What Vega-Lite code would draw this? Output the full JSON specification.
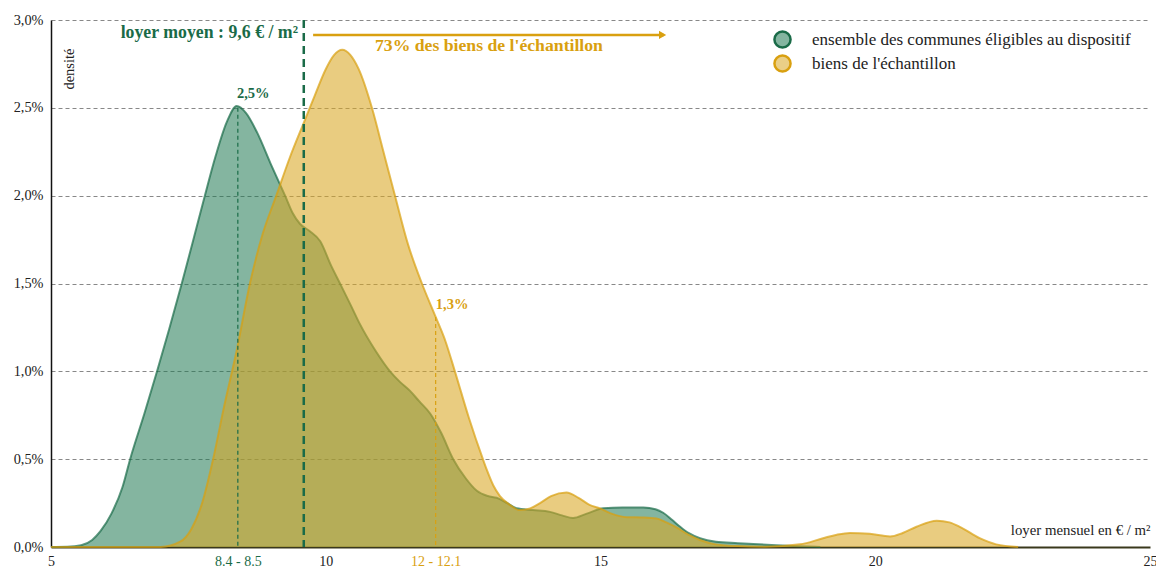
{
  "$schema": "https://vega.github.io/schema/vega-lite/v6.json",
  "width": 1099,
  "height": 527,
  "autosize": {"type": "none"},
  "padding": {"left": 51, "top": 20, "right": 6, "bottom": 20},
  "background": "white",
  "config": {
    "font": "Liberation Serif",
    "view": {"stroke": null}
  },
  "datasets": {
    "curves": [
      {"serie": "ensemble des communes éligibles au dispositif", "x": 5.0, "y": 0},
      {"serie": "ensemble des communes éligibles au dispositif", "x": 5.3, "y": 0.00001},
      {"serie": "ensemble des communes éligibles au dispositif", "x": 5.55, "y": 0.0001},
      {"serie": "ensemble des communes éligibles au dispositif", "x": 5.75, "y": 0.0004},
      {"serie": "ensemble des communes éligibles au dispositif", "x": 5.9, "y": 0.0009},
      {"serie": "ensemble des communes éligibles au dispositif", "x": 6.1, "y": 0.0019},
      {"serie": "ensemble des communes éligibles au dispositif", "x": 6.3, "y": 0.0034},
      {"serie": "ensemble des communes éligibles au dispositif", "x": 6.44, "y": 0.005},
      {"serie": "ensemble des communes éligibles au dispositif", "x": 6.7, "y": 0.0076},
      {"serie": "ensemble des communes éligibles au dispositif", "x": 6.93, "y": 0.01},
      {"serie": "ensemble des communes éligibles au dispositif", "x": 7.15, "y": 0.0124},
      {"serie": "ensemble des communes éligibles au dispositif", "x": 7.38, "y": 0.015},
      {"serie": "ensemble des communes éligibles au dispositif", "x": 7.6, "y": 0.0176},
      {"serie": "ensemble des communes éligibles au dispositif", "x": 7.8, "y": 0.02},
      {"serie": "ensemble des communes éligibles au dispositif", "x": 8.0, "y": 0.0223},
      {"serie": "ensemble des communes éligibles au dispositif", "x": 8.2, "y": 0.0242},
      {"serie": "ensemble des communes éligibles au dispositif", "x": 8.38, "y": 0.0251},
      {"serie": "ensemble des communes éligibles au dispositif", "x": 8.55, "y": 0.0247},
      {"serie": "ensemble des communes éligibles au dispositif", "x": 8.75, "y": 0.0236},
      {"serie": "ensemble des communes éligibles au dispositif", "x": 9.0, "y": 0.0218},
      {"serie": "ensemble des communes éligibles au dispositif", "x": 9.26, "y": 0.02},
      {"serie": "ensemble des communes éligibles au dispositif", "x": 9.4, "y": 0.019},
      {"serie": "ensemble des communes éligibles au dispositif", "x": 9.53, "y": 0.0184},
      {"serie": "ensemble des communes éligibles au dispositif", "x": 9.7, "y": 0.018},
      {"serie": "ensemble des communes éligibles au dispositif", "x": 9.9, "y": 0.0174},
      {"serie": "ensemble des communes éligibles au dispositif", "x": 10.1, "y": 0.016},
      {"serie": "ensemble des communes éligibles au dispositif", "x": 10.26, "y": 0.015},
      {"serie": "ensemble des communes éligibles au dispositif", "x": 10.45, "y": 0.0138},
      {"serie": "ensemble des communes éligibles au dispositif", "x": 10.62, "y": 0.0127},
      {"serie": "ensemble des communes éligibles au dispositif", "x": 10.9, "y": 0.0112},
      {"serie": "ensemble des communes éligibles au dispositif", "x": 11.17, "y": 0.01},
      {"serie": "ensemble des communes éligibles au dispositif", "x": 11.35, "y": 0.0094},
      {"serie": "ensemble des communes éligibles au dispositif", "x": 11.53, "y": 0.0089},
      {"serie": "ensemble des communes éligibles au dispositif", "x": 11.7, "y": 0.0083},
      {"serie": "ensemble des communes éligibles au dispositif", "x": 11.9, "y": 0.0076},
      {"serie": "ensemble des communes éligibles au dispositif", "x": 12.1, "y": 0.0065},
      {"serie": "ensemble des communes éligibles au dispositif", "x": 12.32, "y": 0.005},
      {"serie": "ensemble des communes éligibles au dispositif", "x": 12.55, "y": 0.0039},
      {"serie": "ensemble des communes éligibles au dispositif", "x": 12.75, "y": 0.0032},
      {"serie": "ensemble des communes éligibles au dispositif", "x": 12.95, "y": 0.0029},
      {"serie": "ensemble des communes éligibles au dispositif", "x": 13.11, "y": 0.0028},
      {"serie": "ensemble des communes éligibles au dispositif", "x": 13.3, "y": 0.0025},
      {"serie": "ensemble des communes éligibles au dispositif", "x": 13.47, "y": 0.0022},
      {"serie": "ensemble des communes éligibles au dispositif", "x": 13.77, "y": 0.0021},
      {"serie": "ensemble des communes éligibles au dispositif", "x": 14.08, "y": 0.002},
      {"serie": "ensemble des communes éligibles au dispositif", "x": 14.3, "y": 0.0018},
      {"serie": "ensemble des communes éligibles au dispositif", "x": 14.5, "y": 0.00165},
      {"serie": "ensemble des communes éligibles au dispositif", "x": 14.75, "y": 0.0019},
      {"serie": "ensemble des communes éligibles au dispositif", "x": 15.05, "y": 0.0022},
      {"serie": "ensemble des communes éligibles au dispositif", "x": 15.4, "y": 0.00225},
      {"serie": "ensemble des communes éligibles au dispositif", "x": 15.78, "y": 0.00225},
      {"serie": "ensemble des communes éligibles au dispositif", "x": 16.0, "y": 0.00215},
      {"serie": "ensemble des communes éligibles au dispositif", "x": 16.14, "y": 0.00195},
      {"serie": "ensemble des communes éligibles au dispositif", "x": 16.3, "y": 0.00155},
      {"serie": "ensemble des communes éligibles au dispositif", "x": 16.45, "y": 0.00115},
      {"serie": "ensemble des communes éligibles au dispositif", "x": 16.6, "y": 0.0008},
      {"serie": "ensemble des communes éligibles au dispositif", "x": 16.81, "y": 0.0005},
      {"serie": "ensemble des communes éligibles au dispositif", "x": 17.1, "y": 0.0003},
      {"serie": "ensemble des communes éligibles au dispositif", "x": 17.5, "y": 0.00022},
      {"serie": "ensemble des communes éligibles au dispositif", "x": 17.78, "y": 0.00017},
      {"serie": "ensemble des communes éligibles au dispositif", "x": 18.2, "y": 0.0001},
      {"serie": "ensemble des communes éligibles au dispositif", "x": 18.6, "y": 0.00004},
      {"serie": "ensemble des communes éligibles au dispositif", "x": 19.0, "y": 0},
      {"serie": "biens de l'échantillon", "x": 5.0, "y": 0},
      {"serie": "biens de l'échantillon", "x": 7.0, "y": 0},
      {"serie": "biens de l'échantillon", "x": 7.35, "y": 0.0003},
      {"serie": "biens de l'échantillon", "x": 7.55, "y": 0.001},
      {"serie": "biens de l'échantillon", "x": 7.75, "y": 0.0025},
      {"serie": "biens de l'échantillon", "x": 7.95, "y": 0.005},
      {"serie": "biens de l'échantillon", "x": 8.15, "y": 0.008},
      {"serie": "biens de l'échantillon", "x": 8.38, "y": 0.0112},
      {"serie": "biens de l'échantillon", "x": 8.62, "y": 0.015},
      {"serie": "biens de l'échantillon", "x": 8.85, "y": 0.0178},
      {"serie": "biens de l'échantillon", "x": 9.1, "y": 0.02},
      {"serie": "biens de l'échantillon", "x": 9.35, "y": 0.0222},
      {"serie": "biens de l'échantillon", "x": 9.62, "y": 0.0243},
      {"serie": "biens de l'échantillon", "x": 9.8, "y": 0.0257},
      {"serie": "biens de l'échantillon", "x": 10.0, "y": 0.0272},
      {"serie": "biens de l'échantillon", "x": 10.15, "y": 0.028},
      {"serie": "biens de l'échantillon", "x": 10.3, "y": 0.0283},
      {"serie": "biens de l'échantillon", "x": 10.45, "y": 0.028},
      {"serie": "biens de l'échantillon", "x": 10.6, "y": 0.0272},
      {"serie": "biens de l'échantillon", "x": 10.84, "y": 0.025},
      {"serie": "biens de l'échantillon", "x": 11.05, "y": 0.0225},
      {"serie": "biens de l'échantillon", "x": 11.26, "y": 0.02},
      {"serie": "biens de l'échantillon", "x": 11.5, "y": 0.0172},
      {"serie": "biens de l'échantillon", "x": 11.75, "y": 0.015},
      {"serie": "biens de l'échantillon", "x": 12.0, "y": 0.0131},
      {"serie": "biens de l'échantillon", "x": 12.18, "y": 0.0117},
      {"serie": "biens de l'échantillon", "x": 12.35, "y": 0.01},
      {"serie": "biens de l'échantillon", "x": 12.6, "y": 0.0074},
      {"serie": "biens de l'échantillon", "x": 12.86, "y": 0.005},
      {"serie": "biens de l'échantillon", "x": 12.93, "y": 0.0044},
      {"serie": "biens de l'échantillon", "x": 13.05, "y": 0.0035},
      {"serie": "biens de l'échantillon", "x": 13.17, "y": 0.0029},
      {"serie": "biens de l'échantillon", "x": 13.35, "y": 0.0024},
      {"serie": "biens de l'échantillon", "x": 13.53, "y": 0.0021},
      {"serie": "biens de l'échantillon", "x": 13.72, "y": 0.0022},
      {"serie": "biens de l'échantillon", "x": 13.9, "y": 0.0025},
      {"serie": "biens de l'échantillon", "x": 14.1, "y": 0.0029},
      {"serie": "biens de l'échantillon", "x": 14.38, "y": 0.0031},
      {"serie": "biens de l'échantillon", "x": 14.6, "y": 0.0028},
      {"serie": "biens de l'échantillon", "x": 14.8, "y": 0.0024},
      {"serie": "biens de l'échantillon", "x": 14.99, "y": 0.0022},
      {"serie": "biens de l'échantillon", "x": 15.2, "y": 0.0019},
      {"serie": "biens de l'échantillon", "x": 15.48, "y": 0.0017},
      {"serie": "biens de l'échantillon", "x": 15.75, "y": 0.00168},
      {"serie": "biens de l'échantillon", "x": 16.02, "y": 0.00162},
      {"serie": "biens de l'échantillon", "x": 16.2, "y": 0.0014},
      {"serie": "biens de l'échantillon", "x": 16.39, "y": 0.0011},
      {"serie": "biens de l'échantillon", "x": 16.6, "y": 0.0007},
      {"serie": "biens de l'échantillon", "x": 16.81, "y": 0.0004},
      {"serie": "biens de l'échantillon", "x": 17.1, "y": 0.00015},
      {"serie": "biens de l'échantillon", "x": 17.5, "y": 0.00005},
      {"serie": "biens de l'échantillon", "x": 18.0, "y": 0.00002},
      {"serie": "biens de l'échantillon", "x": 18.63, "y": 0.00015},
      {"serie": "biens de l'échantillon", "x": 19.05, "y": 0.0005},
      {"serie": "biens de l'échantillon", "x": 19.3, "y": 0.0007},
      {"serie": "biens de l'échantillon", "x": 19.54, "y": 0.0008},
      {"serie": "biens de l'échantillon", "x": 19.9, "y": 0.00075},
      {"serie": "biens de l'échantillon", "x": 20.27, "y": 0.0006},
      {"serie": "biens de l'échantillon", "x": 20.5, "y": 0.0008},
      {"serie": "biens de l'échantillon", "x": 20.75, "y": 0.00115},
      {"serie": "biens de l'échantillon", "x": 21.12, "y": 0.0015},
      {"serie": "biens de l'échantillon", "x": 21.35, "y": 0.0014},
      {"serie": "biens de l'échantillon", "x": 21.54, "y": 0.00115},
      {"serie": "biens de l'échantillon", "x": 21.9, "y": 0.0005},
      {"serie": "biens de l'échantillon", "x": 22.2, "y": 0.00015},
      {"serie": "biens de l'échantillon", "x": 22.6, "y": 0}
    ]
  },
  "layer": [
    {
      "data": {"name": "curves"},
      "transform": [{"filter": "datum.serie === 'ensemble des communes éligibles au dispositif'"}],
      "mark": {"type": "area", "interpolate": "monotone", "fillOpacity": 0.55},
      "encoding": {
        "x": {
          "field": "x", "type": "quantitative",
          "scale": {"domain": [5, 25], "nice": false, "zero": false},
          "axis": {
            "values": [5, 8.4, 10, 12, 15, 20, 25],
            "labelExpr": "datum.value === 8.4 ? '8.4 - 8.5' : datum.value === 12 ? '12 - 12.1' : datum.label",
            "labelColor": {
              "condition": [
                {"test": "datum.value === 8.4", "value": "#1A6B48"},
                {"test": "datum.value === 12", "value": "#D9A010"}
              ],
              "value": "#222"
            },
            "ticks": false,
            "grid": false,
            "domainColor": "#3a381c",
            "domainWidth": 2,
            "labelFont": "Liberation Serif",
            "labelFontSize": 14,
            "labelPadding": 7,
            "labelFlush": false,
            "labelOverlap": false,
            "title": "loyer mensuel en € / m²",
            "titleFont": "Liberation Serif",
            "titleFontSize": 14.8,
            "titleFontWeight": "normal",
            "titleColor": "#222",
            "titleX": 1099,
            "titleY": -17,
            "titleAlign": "right",
            "titleBaseline": "middle",
            "titleAnchor": null
          }
        },
        "y": {
          "field": "y", "type": "quantitative",
          "scale": {"domain": [0, 0.03], "nice": false},
          "axis": {
            "values": [0, 0.005, 0.01, 0.015, 0.02, 0.025, 0.03],
            "labelExpr": "replace(format(datum.value, '.1%'), '.', ',')",
            "ticks": false,
            "grid": true,
            "gridColor": "#888",
            "gridDash": [4, 3],
            "gridWidth": 1,
            "domainColor": "#111",
            "domainWidth": 1.5,
            "labelFont": "Liberation Serif",
            "labelFontSize": 14.3,
            "labelColor": "#222",
            "labelPadding": 8,
            "title": "densité",
            "titleFont": "Liberation Serif",
            "titleFontSize": 14.5,
            "titleFontWeight": "normal",
            "titleColor": "#222",
            "titleAngle": -90,
            "titleX": 18,
            "titleY": 28,
            "titleAlign": "right",
            "titleBaseline": "middle"
          }
        },
        "fill": {
          "field": "serie", "type": "nominal",
          "scale": {
            "domain": ["ensemble des communes éligibles au dispositif", "biens de l'échantillon"],
            "range": ["#1F7852", "#D9A725"]
          },
          "legend": {
            "title": null,
            "orient": "none",
            "legendX": 722,
            "legendY": 10,
            "symbolType": "circle",
            "symbolSize": 260,
            "symbolStrokeWidth": 2.5,
            "labelFont": "Liberation Serif",
            "labelFontSize": 17,
            "labelColor": "#222",
            "labelOffset": 20,
            "labelLimit": 0,
            "rowPadding": -3,
            "encode": {"symbols": {"update": {"fillOpacity": {"value": 0.55}, "strokeWidth": {"value": 2.5}}}}
          }
        }
      }
    },
    {
      "data": {"name": "curves"},
      "transform": [{"filter": "datum.serie === 'ensemble des communes éligibles au dispositif'"}],
      "mark": {"type": "line", "interpolate": "monotone", "strokeWidth": 2, "strokeOpacity": 0.7},
      "encoding": {
        "x": {"field": "x", "type": "quantitative"},
        "y": {"field": "y", "type": "quantitative"},
        "stroke": {
          "field": "serie", "type": "nominal",
          "scale": {
            "domain": ["ensemble des communes éligibles au dispositif", "biens de l'échantillon"],
            "range": ["#1A6B48", "#D9A010"]
          },
          "legend": {
            "title": null,
            "orient": "none",
            "legendX": 722,
            "legendY": 10,
            "symbolType": "circle",
            "symbolSize": 260,
            "symbolStrokeWidth": 2.5,
            "labelFont": "Liberation Serif",
            "labelFontSize": 17,
            "labelColor": "#222",
            "labelOffset": 20,
            "labelLimit": 0,
            "rowPadding": -3,
            "encode": {"symbols": {"update": {"fillOpacity": {"value": 0.55}, "strokeWidth": {"value": 2.5}}}}
          }
        }
      }
    },
    {
      "data": {"name": "curves"},
      "transform": [{"filter": "datum.serie === \"biens de l'échantillon\""}],
      "mark": {"type": "area", "interpolate": "monotone", "fillOpacity": 0.58},
      "encoding": {
        "x": {"field": "x", "type": "quantitative"},
        "y": {"field": "y", "type": "quantitative"},
        "fill": {"field": "serie", "type": "nominal"}
      }
    },
    {
      "data": {"name": "curves"},
      "transform": [{"filter": "datum.serie === \"biens de l'échantillon\""}],
      "mark": {"type": "line", "interpolate": "monotone", "strokeWidth": 2, "strokeOpacity": 0.7},
      "encoding": {
        "x": {"field": "x", "type": "quantitative"},
        "y": {"field": "y", "type": "quantitative"},
        "stroke": {"field": "serie", "type": "nominal"}
      }
    },
    {
      "data": {"values": [{"x": 9.6}]},
      "mark": {"type": "rule", "color": "#1A6B48", "strokeWidth": 2.5, "strokeDash": [8, 5]},
      "encoding": {"x": {"field": "x", "type": "quantitative"}}
    },
    {
      "data": {"values": [{"x": 8.4, "y": 0.025, "y0": 0}]},
      "mark": {"type": "rule", "color": "#1A6B48", "strokeWidth": 1.2, "strokeDash": [4, 3]},
      "encoding": {
        "x": {"field": "x", "type": "quantitative"},
        "y": {"field": "y", "type": "quantitative"},
        "y2": {"field": "y0"}
      }
    },
    {
      "data": {"values": [{"x": 12.0, "y": 0.0131, "y0": 0}]},
      "mark": {"type": "rule", "color": "#D9A010", "strokeWidth": 1.2, "strokeDash": [4, 3]},
      "encoding": {
        "x": {"field": "x", "type": "quantitative"},
        "y": {"field": "y", "type": "quantitative"},
        "y2": {"field": "y0"}
      }
    },
    {
      "data": {"values": [{"x": 9.77, "x2": 16.15, "y": 0.02915}]},
      "mark": {"type": "rule", "color": "#D9A010", "strokeWidth": 2.5},
      "encoding": {
        "x": {"field": "x", "type": "quantitative"},
        "x2": {"field": "x2"},
        "y": {"field": "y", "type": "quantitative"}
      }
    },
    {
      "data": {"values": [{"x": 16.13, "y": 0.02915}]},
      "mark": {"type": "point", "shape": "triangle-right", "filled": true, "color": "#D9A010", "size": 70, "opacity": 1},
      "encoding": {
        "x": {"field": "x", "type": "quantitative"},
        "y": {"field": "y", "type": "quantitative"}
      }
    },
    {
      "data": {"values": [{"x": 9.495, "y": 0.02926, "label": "loyer moyen : 9,6 € / m²"}]},
      "mark": {"type": "text", "align": "right", "baseline": "middle", "font": "Liberation Serif", "fontWeight": "bold", "fontSize": 17.8, "color": "#1A6B48"},
      "encoding": {
        "x": {"field": "x", "type": "quantitative"},
        "y": {"field": "y", "type": "quantitative"},
        "text": {"field": "label"}
      }
    },
    {
      "data": {"values": [{"x": 12.97, "y": 0.02852, "label": "73% des biens de l'échantillon"}]},
      "mark": {"type": "text", "align": "center", "baseline": "middle", "font": "Liberation Serif", "fontWeight": "bold", "fontSize": 17.7, "color": "#D9A010"},
      "encoding": {
        "x": {"field": "x", "type": "quantitative"},
        "y": {"field": "y", "type": "quantitative"},
        "text": {"field": "label"}
      }
    },
    {
      "data": {"values": [{"x": 8.68, "y": 0.02579, "label": "2,5%"}]},
      "mark": {"type": "text", "align": "center", "baseline": "middle", "font": "Liberation Serif", "fontWeight": "bold", "fontSize": 14.5, "color": "#1A6B48"},
      "encoding": {
        "x": {"field": "x", "type": "quantitative"},
        "y": {"field": "y", "type": "quantitative"},
        "text": {"field": "label"}
      }
    },
    {
      "data": {"values": [{"x": 12.3, "y": 0.01378, "label": "1,3%"}]},
      "mark": {"type": "text", "align": "center", "baseline": "middle", "font": "Liberation Serif", "fontWeight": "bold", "fontSize": 14.5, "color": "#D9A010"},
      "encoding": {
        "x": {"field": "x", "type": "quantitative"},
        "y": {"field": "y", "type": "quantitative"},
        "text": {"field": "label"}
      }
    }
  ]
}
